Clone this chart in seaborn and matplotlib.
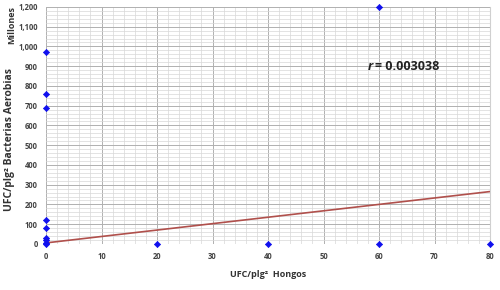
import matplotlib
matplotlib.use("Agg")
import matplotlib.pyplot as plt
import seaborn as sns
import pandas as pd
from matplotlib.ticker import MultipleLocator, FuncFormatter

hongos = [0, 0, 0, 0, 0, 0, 0, 0, 0, 20, 40, 60, 60, 80]
bacterias = [970, 760, 690, 120, 80, 30, 20, 5, 0, 0, 0, 0, 1200, 0]
trend_x = [0, 80]
trend_y = [5, 265]
r_text = "= 0.003038"

sns.set_style("white")
plt.rcParams['font.family'] = ['Open Sans', 'DejaVu Sans']

fig = plt.figure(figsize=(5, 2.9), dpi=100)
ax = fig.add_axes([0.092, 0.159, 0.888, 0.817])

df = pd.DataFrame({"x": hongos, "y": bacterias})
sns.lineplot(x=trend_x, y=trend_y, ax=ax, color="#b0504c", linewidth=1.2, zorder=3)
sns.scatterplot(data=df, x="x", y="y", ax=ax, marker="D", color="#1010ee",
                s=10, edgecolor="#1010ee", linewidth=0.5, zorder=4, clip_on=False)

ax.set_xlim(0, 80)
ax.set_ylim(0, 1200)
ax.xaxis.set_major_locator(MultipleLocator(10))
ax.xaxis.set_minor_locator(MultipleLocator(2))
ax.yaxis.set_major_locator(MultipleLocator(100))
ax.yaxis.set_minor_locator(MultipleLocator(20))
ax.yaxis.set_major_formatter(FuncFormatter(lambda v, p: f"{int(v):,}"))
ax.grid(which="major", color="#b0b0b0", linewidth=0.7)
ax.grid(which="minor", color="#d8d8d8", linewidth=0.5)
ax.set_axisbelow(True)
for s in ax.spines.values():
    s.set_visible(False)
ax.spines["right"].set_visible(True)
ax.spines["right"].set_color("#d0d0d0")
ax.tick_params(which="both", length=0, labelsize=5.5, labelcolor="#444444", pad=6)
for lbl in ax.get_xticklabels() + ax.get_yticklabels():
    lbl.set_fontweight("bold")

ax.set_xlabel("UFC/plg²  Hongos", fontsize=6.5, fontweight="bold", color="#333333", labelpad=6)
ax.set_ylabel("UFC/plg² Bacterias Aerobias", fontsize=7.5, fontweight="bold", color="#333333", labelpad=8)
ax.yaxis.set_label_coords(-0.07, 0.44)
fig.text(0.024, 0.915, "Millones", rotation=90, fontsize=6.5, fontweight="bold",
         color="#333333", ha="center", va="center")
ax.text(0.725, 0.75, "r", transform=ax.transAxes, fontsize=9, fontweight="bold",
        style="italic", color="#222222", ha="left", va="center")
ax.text(0.742, 0.75, r_text, transform=ax.transAxes, fontsize=9,
        fontweight="bold", color="#222222", ha="left", va="center")

fig.savefig("out.png", dpi=100)
